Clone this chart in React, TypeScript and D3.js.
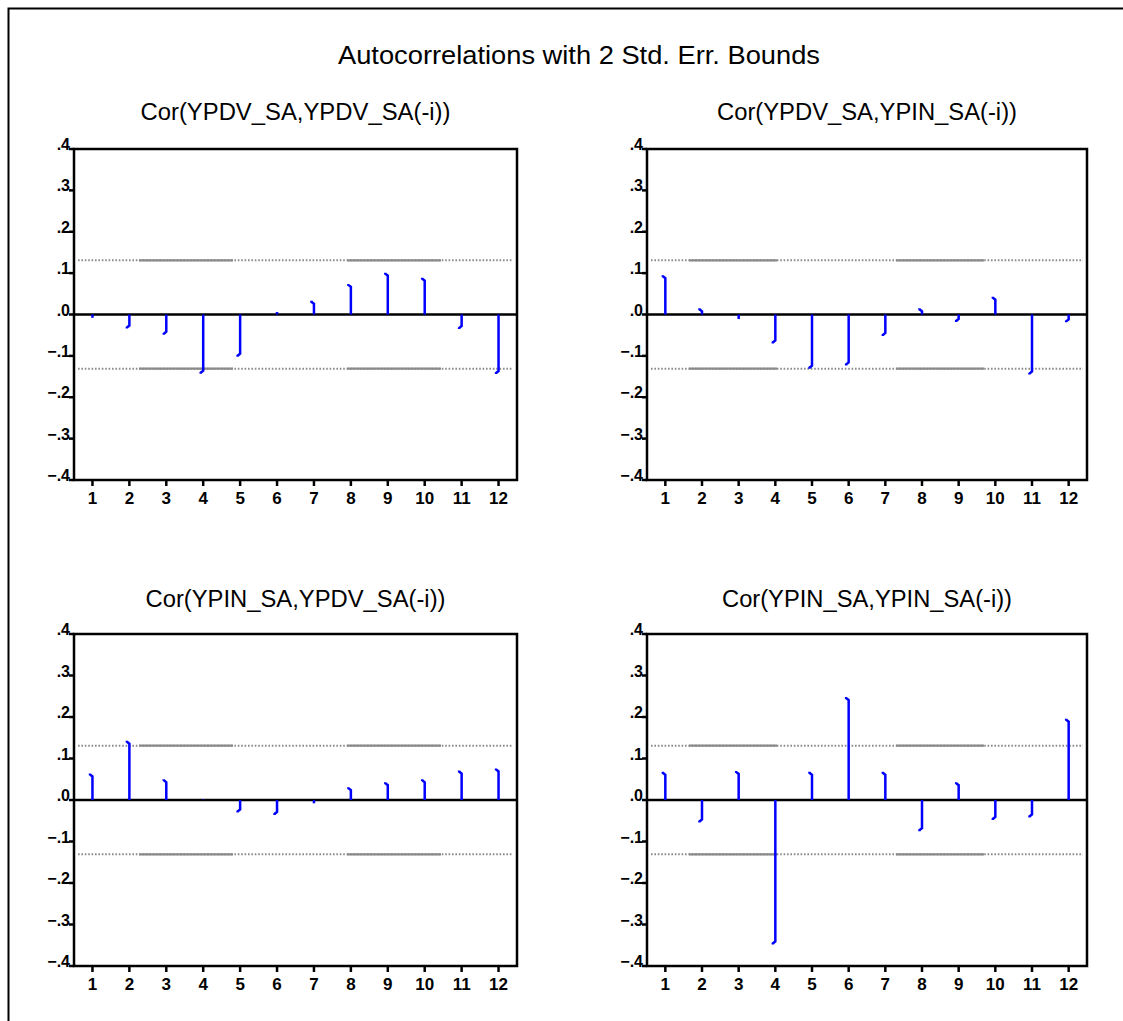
import React from 'react';
import {scaleBand, scaleLinear, format} from 'd3';

// lags and y tick values
const lags = [1, 2, 3, 4, 5, 6, 7, 8, 9, 10, 11, 12];
const yTicks = [0.4, 0.3, 0.2, 0.1, 0, -0.1, -0.2, -0.3, -0.4];

// correlations
const pdvPdv = [-0.008, -0.034, -0.049, -0.143, -0.102, 0.006, 0.033, 0.074, 0.101, 0.089, -0.035, -0.144];
const pdvPin = [0.095, 0.015, -0.011, -0.07, -0.131, -0.123, -0.052, 0.015, -0.018, 0.043, -0.145, -0.019];
const pinPdv = [0.064, 0.143, 0.05, 0.001, -0.03, -0.036, -0.008, 0.031, 0.043, 0.05, 0.071, 0.076];
const pinPin = [0.068, -0.054, 0.07, -0.348, 0.068, 0.248, 0.068, -0.075, 0.043, -0.048, -0.042, 0.196];

// 2 std. err. bound
const bound = 0.131;

const mainTitle = 'Autocorrelations with 2 Std. Err. Bounds';
const panelTitles = [
	'Cor(YPDV_SA,YPDV_SA(-i))',
	'Cor(YPDV_SA,YPIN_SA(-i))',
	'Cor(YPIN_SA,YPDV_SA(-i))',
	'Cor(YPIN_SA,YPIN_SA(-i))'
];

const fontFamily = '"Liberation Sans", Arial, sans-serif';

// layout per column / row
const cols = [
	{x0: 74, x1: 517, dash: '94 114', dashOffset: 147, titleLen: [310, 300]},
	{x0: 647, x1: 1087, dash: '88 119', dashOffset: 169, titleLen: [300, 290]}
];
const rows = [
	{y0: 149, y1: 480, titleY: 120},
	{y0: 634, y1: 966, titleY: 607}
];

const panels = [
	{title: panelTitles[0], values: pdvPdv, col: 0, row: 0},
	{title: panelTitles[1], values: pdvPin, col: 1, row: 0},
	{title: panelTitles[2], values: pinPdv, col: 0, row: 1},
	{title: panelTitles[3], values: pinPin, col: 1, row: 1}
];

const fmt = (d: number) => format('.1f')(d).replace('0.', '.');

function stemPath(x: number, y0: number, yv: number) {
	const len = Math.abs(yv - y0);
	if (len < 5) return `M${x},${y0}V${yv}`;
	const s = yv < y0 ? 1 : -1;
	return `M${x},${y0}V${yv + s * 3}L${x - 2.5},${yv + s * 1}V${yv}`;
}

function Panel({title, values, col, row}: any) {
	const c = cols[col];
	const r = rows[row];

	const x = scaleBand<number>().domain(lags).range([c.x0, c.x1]).padding(0);
	const y = scaleLinear().domain([-0.4, 0.4]).range([r.y1, r.y0]);
	const cx = (d: number) => x(d)! + x.bandwidth() / 2;

	return (
		<g className='panel'>
			<text
				x={(c.x0 + c.x1) / 2}
				y={r.titleY}
				textAnchor='middle'
				fontFamily={fontFamily}
				fontSize={23}
				textLength={c.titleLen[row]}
				lengthAdjust='spacingAndGlyphs'
			>
				{title}
			</text>

			{/* bounds: dotted line with solid segments */}
			{[bound, -bound].map(b => (
				<g key={b}>
					<line x1={c.x0 + 4} x2={c.x1 - 4} y1={y(b)} y2={y(b)}
						stroke='#8a8a8a' strokeWidth={2} strokeDasharray='1.6 1.8' />
					<line x1={c.x0 + 4} x2={c.x1 - 4} y1={y(b)} y2={y(b)}
						stroke='#8a8a8a' strokeWidth={2.2}
						strokeDasharray={c.dash} strokeDashoffset={c.dashOffset} />
				</g>
			))}

			{/* zero line */}
			<line x1={c.x0} x2={c.x1} y1={y(0)} y2={y(0)} stroke='#000' strokeWidth={2.5} />

			{/* stems */}
			{values.map((v: number, i: number) => (
				<path key={i} d={stemPath(cx(lags[i]), y(0), y(v))}
					fill='none' stroke='#0000ff' strokeWidth={2.5} />
			))}

			{/* frame */}
			<rect x={c.x0} y={r.y0} width={c.x1 - c.x0} height={r.y1 - r.y0}
				fill='none' stroke='#000' strokeWidth={2.5} />

			{/* y axis */}
			{yTicks.map(t => (
				<g key={t}>
					<line x1={c.x0 - 5} x2={c.x0} y1={y(t)} y2={y(t)} stroke='#000' strokeWidth={2.5} />
					<text x={c.x0 - 4} y={y(t) + 1} textAnchor='end'
						fontFamily={fontFamily} fontSize={16} fontWeight='bold'>
						{fmt(t)}
					</text>
				</g>
			))}

			{/* x axis */}
			{lags.map(l => (
				<g key={l}>
					<line x1={cx(l)} x2={cx(l)} y1={r.y1} y2={r.y1 + 6} stroke='#000' strokeWidth={2.5} />
					<text x={cx(l)} y={r.y1 + 24} textAnchor='middle'
						fontFamily={fontFamily} fontSize={17} fontWeight='bold'>
						{l}
					</text>
				</g>
			))}
		</g>
	);
}

export default function App() {
	return (
		<svg
			width={1123}
			height={1021}
			style={{position: 'absolute', left: 0, top: 0, background: '#fff'}}
		>
			<path d='M8.5,1021V8.5H1123' fill='none' stroke='#000' strokeWidth={2} />
			<text x={579} y={64} textAnchor='middle' fontFamily={fontFamily}
				fontSize={26} textLength={482} lengthAdjust='spacingAndGlyphs'>
				{mainTitle}
			</text>
			{panels.map(p => <Panel key={p.title} {...p} />)}
		</svg>
	);
}
